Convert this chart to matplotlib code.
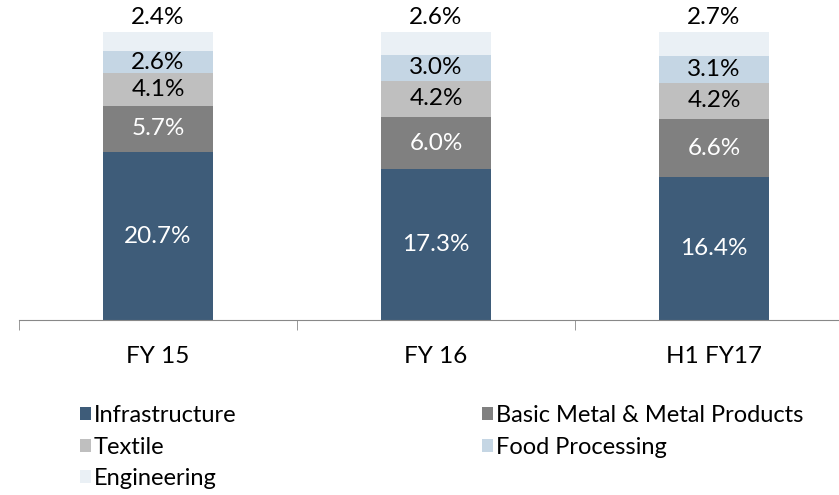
import matplotlib.pyplot as plt
import numpy as np

# --- data --- #
periods = [ "FY 15", "FY 16", "H1 FY17" ]
sectors = [ "Infrastructure", "Basic Metal & Metal Products", "Textile", "Food Processing", "Engineering" ]
infrastructure = [ 20.7, 17.3, 16.4 ]
basic_metal = [ 5.7, 6.0, 6.6 ]
textile = [ 4.1, 4.2, 4.2 ]
food_processing = [ 2.6, 3.0, 3.1 ]
engineering = [ 2.4, 2.6, 2.7 ]

colors = [ "#3E5C79", "#808080", "#BFBFBF", "#C5D6E4", "#EAF0F5" ]
label_colors = [ "white", "white", "black", "black", "black" ]

plt.rcParams['font.family'] = [ 'Lato', 'DejaVu Sans' ]
fs = 17.5

fig = plt.figure( figsize=( 8.39, 4.95 ), dpi=100 )
ax = fig.add_axes( [ 19/839., 175/495., 834/839., 288/495. ] )

series = [ infrastructure, basic_metal, textile, food_processing, engineering ]
values = np.array( series, dtype=float )
totals = values.sum( axis=0 )
shares = values / totals

x = np.arange( len( periods ) )
bottom = np.zeros( len( periods ) )
bars = []
for idx, name in enumerate( sectors ):
	b = ax.bar( x, shares[ idx ], 0.396, bottom=bottom, color=colors[ idx ], label=name, linewidth=0 )
	bars.append( b )
	for j in range( len( periods ) ):
		if idx == len( sectors ) - 1:
			ypos = 1.0 + 0.05
		else:
			ypos = bottom[ j ] + shares[ idx ][ j ] / 2.0
		ax.text( x[ j ], ypos, "%.1f%%" % series[ idx ][ j ], ha="center", va="center",
				fontsize=fs, color=label_colors[ idx ] )
	bottom += shares[ idx ]

ax.set_xlim( -0.5, 2.5 )
ax.set_ylim( 0, 1 )

ax.spines['top'].set_visible(False)
ax.spines['right'].set_visible(False)
ax.spines['left'].set_visible(False)
ax.spines['bottom'].set_color( "#888888" )
ax.get_yaxis().set_ticks([])

ax.set_xticks( x )
ax.set_xticklabels( periods, fontsize=fs )
ax.tick_params( axis="x", which="major", length=0, pad=19 )
ax.set_xticks( [ -0.5, 0.5, 1.5, 2.5 ], minor=True )
ax.tick_params( axis="x", which="minor", length=7, color="#888888", direction="out" )

# --- legend --- #
order = [ 0, 2, 4, 1, 3 ]
handles = [ bars[ i ] for i in order ]
labels = [ sectors[ i ] for i in order ]
fig.legend( handles, labels, ncol=2, loc="upper left", bbox_to_anchor=( 80/839., 1 - 405/495. ),
		frameon=False, fontsize=17, handlelength=0.46, handleheight=0.46, handletextpad=0.12,
		labelspacing=0.45, columnspacing=10.4, borderaxespad=0, borderpad=0 )

fig.savefig( "out.png", dpi=100 )
